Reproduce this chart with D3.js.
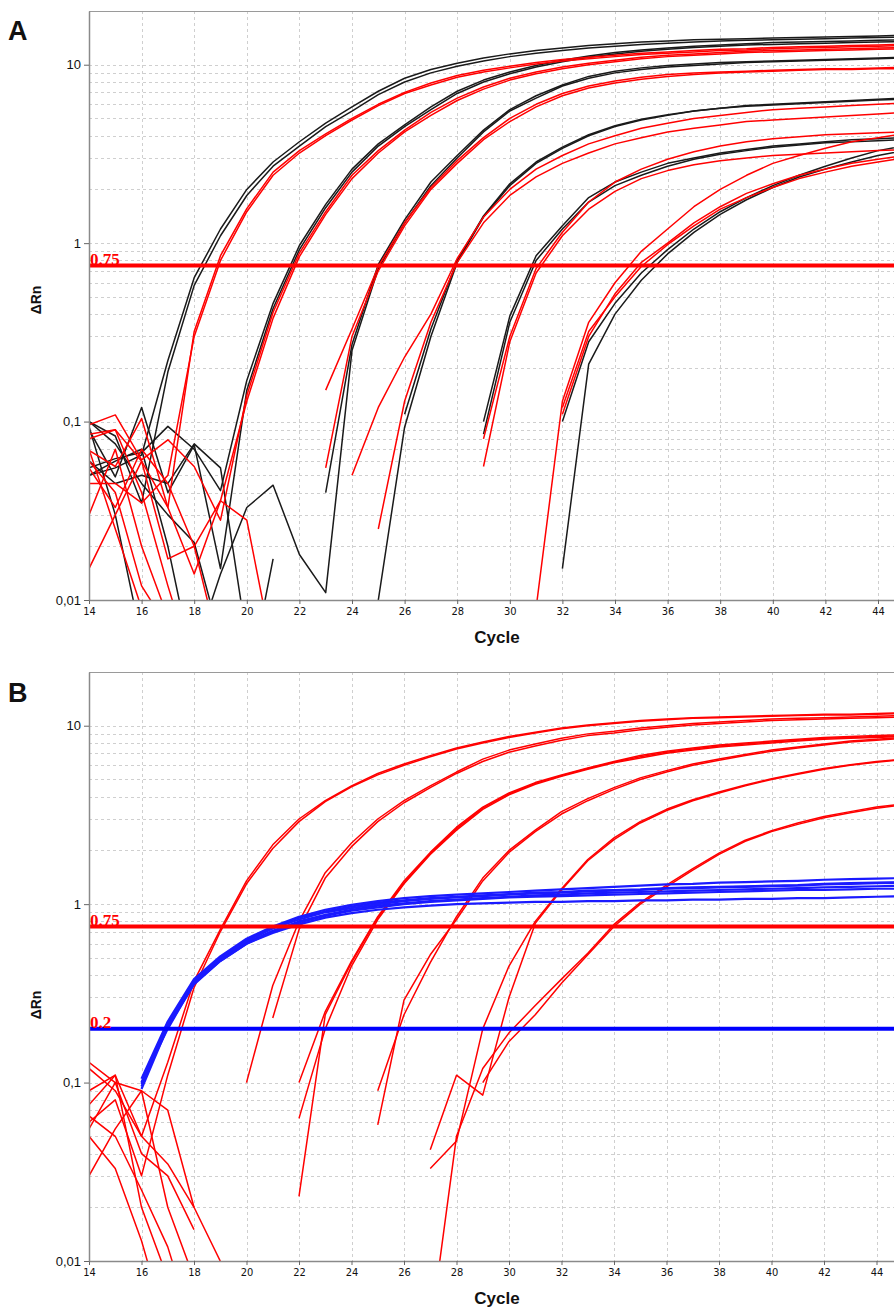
<!DOCTYPE html>
<html lang="en">
<head>
<meta charset="UTF-8">
<title>Amplification plots</title>
<script src="https://cdn.jsdelivr.net/npm/d3@7"></script>
<style>
  body { margin: 0; background: #fff; }
  svg text { font-family: "Liberation Sans", Arial, sans-serif; }
</style>
</head>
<body>
<svg id="chart" width="894" height="1309"></svg>
<script>
var _ = null;   // no value (below zero, not drawn)

// cycles on the x axis, every well has one value per cycle 14..45
var cycles = d3.range(14, 46);
var xTicks = [14, 16, 18, 20, 22, 24, 26, 28, 30, 32, 34, 36, 38, 40, 42, 44];
var yTicks = [0.01, 0.1, 1, 10];
var yTickLabels = ["0,01", "0,1", "1", "10"];

// ---- panel A : black wells ----
var aBlack = [
  [0.05, 0.055, 0.065, 0.22, 0.64, 1.2, 2.0, 2.85, 3.7, 4.7, 5.8, 7.1, 8.4, 9.4, 10.2, 10.9, 11.5, 12.0, 12.4, 12.8, 13.1, 13.4, 13.6, 13.8, 13.9, 14.0, 14.1, 14.2, 14.3, 14.4, 14.5, 14.6],
  [0.1, 0.083, 0.035, 0.19, 0.58, 1.1, 1.85, 2.7, 3.5, 4.5, 5.5, 6.8, 8.0, 9.0, 9.8, 10.5, 11.1, 11.6, 12.0, 12.4, 12.7, 13.0, 13.2, 13.4, 13.6, 13.7, 13.8, 13.9, 14.0, 14.1, 14.2, 14.3],
  [0.055, 0.062, 0.067, 0.094, 0.07, 0.041, 0.17, 0.46, 0.97, 1.65, 2.6, 3.6, 4.6, 5.8, 7.1, 8.2, 9.1, 9.9, 10.6, 11.2, 11.7, 12.1, 12.4, 12.7, 12.9, 13.1, 13.3, 13.4, 13.5, 13.6, 13.7, 13.8],
  [0.09, 0.049, 0.12, 0.04, 0.074, 0.015, 0.15, 0.43, 0.92, 1.58, 2.5, 3.5, 4.5, 5.6, 6.9, 8.0, 8.9, 9.7, 10.4, 11.0, 11.5, 11.9, 12.2, 12.5, 12.7, 12.9, 13.0, 13.1, 13.2, 13.3, 13.4, 13.5],
  [0.094, 0.03, 0.006, _, 0.005, 0.014, 0.033, 0.044, 0.018, 0.011, 0.25, 0.72, 1.3, 2.1, 3.0, 4.2, 5.5, 6.5, 7.6, 8.4, 9.0, 9.4, 9.7, 9.9, 10.1, 10.3, 10.4, 10.5, 10.6, 10.7, 10.8, 10.9],
  [0.1, 0.075, 0.045, 0.03, 0.021, 0.006, 0.003, 0.017, _, 0.04, 0.27, 0.76, 1.35, 2.2, 3.1, 4.3, 5.6, 6.7, 7.7, 8.6, 9.2, 9.6, 9.9, 10.1, 10.3, 10.4, 10.5, 10.6, 10.7, 10.8, 10.9, 11.0],
  [0.06, 0.045, 0.05, 0.045, 0.075, 0.055, 0.006, _, _, _, _, 0.01, 0.093, 0.3, 0.78, 1.4, 2.1, 2.8, 3.4, 4.0, 4.5, 4.9, 5.2, 5.5, 5.7, 5.9, 6.0, 6.1, 6.2, 6.3, 6.4, 6.5],
  [0.05, 0.06, 0.07, 0.02, 0.004, _, _, _, _, _, _, _, 0.11, 0.33, 0.8, 1.42, 2.15, 2.85, 3.45, 4.05, 4.55, 4.95, 5.25, 5.5, 5.7, 5.85, 5.95, 6.05, 6.15, 6.25, 6.35, 6.4],
  [_, _, _, _, _, _, _, _, _, _, _, _, _, _, _, 0.1, 0.39, 0.85, 1.25, 1.8, 2.2, 2.5, 2.8, 3.0, 3.2, 3.35, 3.5, 3.6, 3.7, 3.8, 3.85, 3.9],
  [_, _, _, _, _, _, _, _, _, _, _, _, _, _, _, 0.085, 0.36, 0.8, 1.2, 1.7, 2.1, 2.4, 2.7, 2.95, 3.15, 3.3, 3.45, 3.55, 3.65, 3.7, 3.75, 3.8],
  [_, _, _, _, _, _, _, _, _, _, _, _, _, _, _, _, _, _, 0.1, 0.28, 0.46, 0.68, 0.92, 1.2, 1.5, 1.8, 2.1, 2.4, 2.7, 3.0, 3.3, 3.5],
  [_, _, _, _, _, _, _, _, _, _, _, _, _, _, _, _, _, _, 0.015, 0.21, 0.4, 0.62, 0.87, 1.15, 1.45, 1.75, 2.05, 2.35, 2.6, 2.85, 3.1, 3.3]
];

// ---- panel A : red wells ----
var aRed = [
  [0.085, 0.09, 0.06, 0.033, 0.32, 0.85, 1.56, 2.5, 3.3, 4.1, 5.0, 6.0, 7.0, 7.9, 8.7, 9.3, 9.8, 10.3, 10.7, 11.0, 11.3, 11.6, 11.8, 12.0, 12.2, 12.3, 12.5, 12.6, 12.7, 12.8, 12.9, 13.0],
  [0.045, 0.045, 0.035, 0.05, 0.3, 0.8, 1.5, 2.4, 3.2, 4.0, 4.9, 5.9, 6.9, 7.7, 8.5, 9.1, 9.6, 10.1, 10.5, 10.8, 11.1, 11.4, 11.6, 11.8, 12.0, 12.1, 12.3, 12.4, 12.5, 12.6, 12.7, 12.8],
  [0.096, 0.109, 0.061, 0.079, 0.056, 0.028, 0.14, 0.41, 0.88, 1.5, 2.4, 3.3, 4.3, 5.4, 6.5, 7.5, 8.4, 9.1, 9.7, 10.2, 10.6, 11.0, 11.3, 11.5, 11.7, 11.9, 12.0, 12.1, 12.2, 12.3, 12.4, 12.5],
  [0.069, 0.056, 0.104, 0.033, 0.014, 0.036, 0.13, 0.38, 0.84, 1.45, 2.3, 3.2, 4.2, 5.2, 6.3, 7.3, 8.2, 8.9, 9.5, 10.0, 10.4, 10.8, 11.1, 11.3, 11.5, 11.7, 11.8, 11.9, 12.0, 12.1, 12.2, 12.3],
  [0.015, 0.03, 0.06, 0.017, 0.02, 0.036, 0.028, 0.005, _, 0.15, 0.33, 0.74, 1.3, 2.05, 2.9, 3.9, 5.0, 6.0, 6.9, 7.6, 8.1, 8.5, 8.8, 9.0, 9.1, 9.2, 9.3, 9.4, 9.5, 9.5, 9.6, 9.7],
  [0.08, 0.09, 0.04, 0.012, 0.004, _, _, _, _, 0.055, 0.3, 0.7, 1.25, 2.0, 2.8, 3.8, 4.8, 5.8, 6.7, 7.4, 7.9, 8.3, 8.6, 8.8, 9.0, 9.1, 9.2, 9.3, 9.4, 9.4, 9.5, 9.5],
  [0.055, 0.033, 0.07, 0.045, 0.02, 0.005, _, _, _, _, 0.05, 0.12, 0.23, 0.4, 0.82, 1.4, 2.0, 2.6, 3.1, 3.6, 4.0, 4.4, 4.7, 5.0, 5.2, 5.4, 5.6, 5.7, 5.8, 5.9, 6.0, 6.1],
  [0.07, 0.025, 0.009, _, _, _, _, _, _, _, _, 0.025, 0.13, 0.36, 0.78, 1.3, 1.85, 2.35, 2.8, 3.2, 3.6, 3.9, 4.2, 4.4, 4.6, 4.8, 4.9, 5.0, 5.1, 5.2, 5.3, 5.4],
  [0.06, 0.04, 0.012, 0.007, _, _, _, _, _, _, _, _, _, _, _, 0.08, 0.3, 0.72, 1.15, 1.7, 2.2, 2.6, 2.95, 3.25, 3.5, 3.7, 3.85, 3.95, 4.05, 4.1, 4.15, 4.2],
  [_, _, _, _, _, _, _, _, _, _, _, _, _, _, _, 0.056, 0.28, 0.68, 1.1, 1.55, 1.95, 2.3, 2.55, 2.75, 2.9, 3.0, 3.1, 3.15, 3.2, 3.25, 3.3, 3.35],
  [0.03, 0.07, 0.02, 0.008, _, _, _, _, _, _, _, _, _, _, _, _, _, 0.009, 0.13, 0.36, 0.6, 0.9, 1.2, 1.6, 2.0, 2.4, 2.8, 3.1, 3.4, 3.7, 3.9, 4.1],
  [_, _, _, _, _, _, _, _, _, _, _, _, _, _, _, _, _, _, 0.11, 0.3, 0.52, 0.78, 1.0, 1.3, 1.6, 1.9, 2.15, 2.4, 2.6, 2.8, 2.95, 3.1],
  [_, _, _, _, _, _, _, _, _, _, _, _, _, _, _, _, _, _, 0.12, 0.32, 0.5, 0.74, 0.98, 1.25, 1.55, 1.8, 2.05, 2.3, 2.5, 2.7, 2.85, 3.0]
];

// ---- panel B : red wells ----
var bRed = [
  [0.09, 0.11, 0.05, 0.13, 0.37, 0.72, 1.35, 2.15, 3.0, 3.8, 4.6, 5.4, 6.1, 6.8, 7.5, 8.1, 8.7, 9.2, 9.7, 10.1, 10.4, 10.7, 10.9, 11.1, 11.2, 11.3, 11.4, 11.5, 11.6, 11.6, 11.7, 11.8],
  [0.06, 0.08, 0.03, 0.11, 0.34, 0.7, 1.3, 2.05, 2.9, 3.75, 4.55, 5.3, 6.0, 6.7, 7.4, 8.0, 8.6, 9.1, 9.6, 10.0, 10.3, 10.6, 10.8, 11.0, 11.1, 11.2, 11.3, 11.4, 11.5, 11.5, 11.6, 11.7],
  [0.13, 0.1, 0.09, 0.07, 0.02, _, 0.1, 0.35, 0.8, 1.5, 2.2, 3.0, 3.8, 4.6, 5.5, 6.5, 7.3, 7.9, 8.5, 9.0, 9.3, 9.7, 10.0, 10.3, 10.5, 10.7, 10.9, 11.0, 11.1, 11.2, 11.3, 11.4],
  [0.055, 0.1, 0.04, 0.03, 0.015, _, _, 0.23, 0.72, 1.4, 2.1, 2.9, 3.7, 4.5, 5.4, 6.3, 7.1, 7.7, 8.3, 8.8, 9.1, 9.5, 9.8, 10.1, 10.3, 10.5, 10.7, 10.8, 10.9, 11.0, 11.1, 11.2],
  [0.075, 0.11, 0.02, 0.008, _, _, _, _, 0.1, 0.25, 0.48, 0.85, 1.35, 1.95, 2.7, 3.5, 4.2, 4.8, 5.3, 5.8, 6.3, 6.8, 7.2, 7.5, 7.8, 8.0, 8.2, 8.4, 8.6, 8.7, 8.8, 8.9],
  [0.05, 0.033, 0.013, 0.004, _, _, _, _, 0.063, 0.2, 0.45, 0.82, 1.3, 1.9, 2.6, 3.4, 4.1, 4.7, 5.2, 5.7, 6.2, 6.6, 7.0, 7.3, 7.6, 7.8, 8.0, 8.2, 8.4, 8.5, 8.6, 8.7],
  [0.03, 0.055, 0.09, 0.02, 0.008, _, _, _, 0.023, 0.24, 0.47, 0.84, 1.32, 1.92, 2.65, 3.45, 4.15, 4.75, 5.25, 5.75, 6.25, 6.7, 7.1, 7.4, 7.7, 7.9, 8.1, 8.3, 8.5, 8.6, 8.7, 8.8],
  [0.065, 0.05, 0.025, 0.012, 0.004, _, _, _, _, _, _, 0.09, 0.24, 0.47, 0.85, 1.4, 2.0, 2.6, 3.3, 3.9, 4.5, 5.1, 5.6, 6.1, 6.5, 6.9, 7.3, 7.6, 7.9, 8.2, 8.4, 8.6],
  [0.12, 0.09, 0.05, 0.035, 0.02, 0.01, _, _, _, _, _, 0.058, 0.29, 0.52, 0.82, 1.35, 1.95, 2.55, 3.2, 3.8, 4.4, 5.0, 5.5, 6.0, 6.4, 6.8, 7.2, 7.5, 7.8, 8.1, 8.3, 8.5],
  [_, _, _, _, _, _, _, _, _, _, _, _, _, 0.042, 0.11, 0.085, 0.3, 0.78, 1.2, 1.75, 2.3, 2.85, 3.35, 3.8, 4.2, 4.6, 5.0, 5.35, 5.7, 6.0, 6.25, 6.45],
  [_, _, _, _, _, _, _, _, _, _, _, _, _, 0.033, 0.047, 0.2, 0.45, 0.8, 1.22, 1.78, 2.35, 2.9, 3.4, 3.85, 4.25, 4.65, 5.05, 5.4, 5.75, 6.05, 6.3, 6.5],
  [_, _, _, _, _, _, _, _, _, _, _, _, _, _, _, 0.1, 0.17, 0.24, 0.36, 0.52, 0.75, 1.0, 1.25, 1.55, 1.9, 2.25, 2.55, 2.8, 3.05, 3.25, 3.45, 3.6],
  [_, _, _, _, _, _, _, _, _, _, _, _, _, 0.004, 0.05, 0.12, 0.19, 0.27, 0.38, 0.53, 0.77, 1.02, 1.28, 1.58, 1.93, 2.28, 2.58, 2.85, 3.1, 3.3, 3.5, 3.65]
];

// ---- panel B : blue wells (start at cycle 16) ----
var bBlue = [
  [_, _, 0.1, 0.2, 0.36, 0.5, 0.63, 0.74, 0.84, 0.91, 0.97, 1.02, 1.05, 1.08, 1.1, 1.12, 1.14, 1.16, 1.17, 1.19, 1.2, 1.21, 1.23, 1.24, 1.25, 1.26, 1.27, 1.28, 1.3, 1.31, 1.32, 1.33],
  [_, _, 0.095, 0.21, 0.37, 0.49, 0.61, 0.71, 0.8, 0.87, 0.93, 0.98, 1.01, 1.04, 1.06, 1.08, 1.1, 1.12, 1.13, 1.15, 1.16, 1.17, 1.18, 1.19, 1.2, 1.21, 1.22, 1.23, 1.24, 1.25, 1.26, 1.27],
  [_, _, 0.105, 0.22, 0.38, 0.51, 0.64, 0.75, 0.85, 0.93, 0.99, 1.04, 1.08, 1.11, 1.13, 1.15, 1.17, 1.19, 1.21, 1.23, 1.25, 1.27, 1.29, 1.3, 1.32, 1.33, 1.34, 1.35, 1.37, 1.38, 1.39, 1.4],
  [_, _, 0.092, 0.205, 0.355, 0.48, 0.6, 0.7, 0.79, 0.86, 0.92, 0.96, 1.0, 1.03, 1.05, 1.07, 1.09, 1.1, 1.11, 1.12, 1.13, 1.14, 1.15, 1.16, 1.17, 1.18, 1.19, 1.2, 1.2, 1.21, 1.22, 1.22],
  [_, _, 0.098, 0.21, 0.36, 0.48, 0.6, 0.69, 0.77, 0.84, 0.89, 0.93, 0.96, 0.98, 1.0, 1.01, 1.02, 1.03, 1.03, 1.04, 1.04, 1.05, 1.05, 1.06, 1.06, 1.07, 1.07, 1.08, 1.08, 1.09, 1.1, 1.11],
  [_, _, 0.1, 0.215, 0.365, 0.5, 0.62, 0.73, 0.82, 0.9, 0.95, 1.0, 1.04, 1.07, 1.09, 1.11, 1.13, 1.15, 1.16, 1.18, 1.19, 1.2, 1.22, 1.23, 1.24, 1.25, 1.26, 1.27, 1.29, 1.3, 1.31, 1.32]
];

var thresholdsA = [{ value: 0.75, color: "#ff0000", label: "0.75" }];
var thresholdsB = [
  { value: 0.75, color: "#ff0000", label: "0.75" },
  { value: 0.2, color: "#0000ff", label: "0.2" }
];

var svg = d3.select("#chart");

function drawPanel(opt) {
  var left = 89, top = opt.top, bottom = opt.bottom;
  var x = d3.scaleLinear().domain([14, 45]).range([left, left + 31 * opt.step]);
  var y = d3.scaleLog().domain([0.01, 20]).range([bottom, top]);
  var g = svg.append("g");

  g.append("clipPath").attr("id", "clip" + opt.name)
    .append("rect").attr("x", left).attr("y", top)
    .attr("width", 894 - left).attr("height", bottom - top);

  // grid
  var hGrid = [];
  [0.01, 0.1, 1].forEach(function (dec) {
    for (var k = 2; k <= 9; k++) hGrid.push(dec * k);
    hGrid.push(dec * 10);
  });
  g.selectAll(".hg").data(hGrid).enter().append("line")
    .attr("x1", left).attr("x2", 894)
    .attr("y1", function (d) { return Math.round(y(d)) + 0.5; })
    .attr("y2", function (d) { return Math.round(y(d)) + 0.5; })
    .attr("stroke", "#cfcfcf").attr("stroke-dasharray", "3,3");
  g.selectAll(".vg").data(xTicks.slice(1)).enter().append("line")
    .attr("x1", function (d) { return Math.round(x(d)) + 0.5; })
    .attr("x2", function (d) { return Math.round(x(d)) + 0.5; })
    .attr("y1", top).attr("y2", bottom)
    .attr("stroke", "#cfcfcf").attr("stroke-dasharray", "3,3");

  // top border
  g.append("line").attr("x1", left).attr("x2", 894)
    .attr("y1", top + 0.5).attr("y2", top + 0.5).attr("stroke", "#9a9a9a");

  // curves
  var line = d3.line()
    .defined(function (d) { return d != null; })
    .x(function (d, i) { return x(cycles[i]); })
    .y(function (d) { return y(d); });
  var curves = g.append("g").attr("clip-path", "url(#clip" + opt.name + ")");
  opt.series.forEach(function (s) {
    curves.selectAll(null).data(s.wells).enter().append("path")
      .attr("d", line).attr("fill", "none")
      .attr("stroke", s.color).attr("stroke-width", s.width)
      .attr("stroke-linejoin", "round");
  });

  // thresholds
  opt.thresholds.forEach(function (t) {
    g.append("line").attr("x1", left).attr("x2", 894)
      .attr("y1", y(t.value)).attr("y2", y(t.value))
      .attr("stroke", t.color).attr("stroke-width", 4);
    g.append("text").attr("x", left + 1).attr("y", y(t.value) - 0.5)
      .style("font-family", "'Liberation Serif', 'Times New Roman', serif")
      .style("font-weight", "bold").style("font-size", "17px")
      .attr("fill", "#ff0000").text(t.label);
  });

  // axes
  var xAxis = g.append("g").attr("transform", "translate(0," + bottom + ")")
    .call(d3.axisBottom(x).tickValues(xTicks).tickSize(4).tickSizeOuter(0).tickPadding(3));
  xAxis.selectAll("text").attr("fill", "#111")
    .style("font-family", "'Liberation Sans Narrow', 'DejaVu Sans Condensed', 'Liberation Sans', sans-serif")
    .style("font-size", "11px");
  var yAxis = g.append("g").attr("transform", "translate(" + left + ",0)")
    .call(d3.axisLeft(y).tickValues(yTicks)
      .tickFormat(function (d, i) { return yTickLabels[i]; })
      .tickSize(5).tickSizeOuter(0).tickPadding(3));
  yAxis.selectAll("text").attr("fill", "#111").style("font-size", "13px");
  [xAxis, yAxis].forEach(function (a) {
    a.select(".domain").attr("stroke", "#8a8a8a").attr("stroke-width", 1.5);
    a.selectAll(".tick line").attr("stroke", "#666");
  });

  // titles
  g.append("text").attr("x", 497).attr("y", bottom + 43).attr("text-anchor", "middle")
    .style("font-weight", "bold").style("font-size", "17px").attr("fill", "#111").text("Cycle");
  g.append("text").attr("transform", "translate(41," + opt.yLabelY + ") rotate(-90)")
    .attr("text-anchor", "middle").style("font-weight", "bold").style("font-size", "14px")
    .attr("fill", "#111").text("\u0394Rn");
  g.append("text").attr("x", 8).attr("y", opt.letterY)
    .style("font-weight", "bold").style("font-size", "27px").attr("fill", "#111").text(opt.name);
}

drawPanel({
  name: "A", top: 11, bottom: 600, step: 26.3, yLabelY: 300, letterY: 40,
  series: [
    { wells: aBlack, color: "#1a1a1a", width: 1.5 },
    { wells: aRed, color: "#ff0000", width: 1.5 }
  ],
  thresholds: thresholdsA
});

drawPanel({
  name: "B", top: 672, bottom: 1261, step: 26.25, yLabelY: 1005, letterY: 702,
  series: [
    { wells: bRed, color: "#ff0000", width: 1.5 },
    { wells: bBlue, color: "#1a1aff", width: 2.2 }
  ],
  thresholds: thresholdsB
});
</script>
</body>
</html>
